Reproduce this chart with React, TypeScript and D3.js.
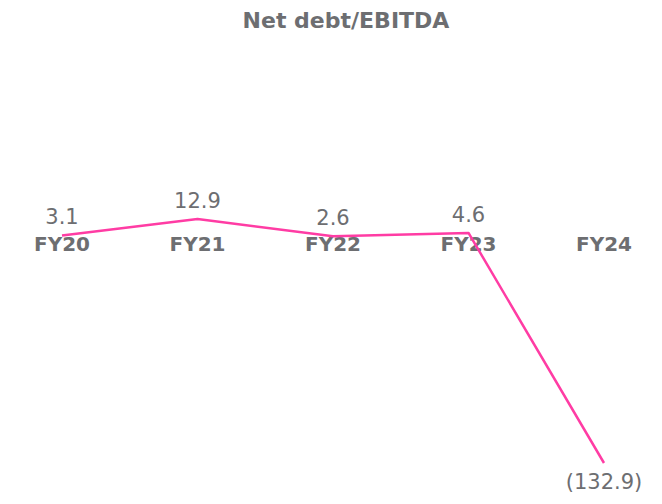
import * as d3 from "d3";

const categories = ["FY20", "FY21", "FY22", "FY23", "FY24"];
const values = [3.1, 12.9, 2.6, 4.6, -132.9];
const labels = ["3.1", "12.9", "2.6", "4.6", "(132.9)"];

const width = 662;
const height = 504;
const gray = "#6d6e71";
const pink = "#ff3ca4";
const font = "'DejaVu Sans', sans-serif";

export default function App() {
  const x = d3.scalePoint<string>().domain(categories).range([62, 604]);
  const y = d3.scaleLinear().domain([-132.9, 12.9]).range([463, 219]);
  const pts = categories.map((c, i) => ({ c, v: values[i], l: labels[i] }));
  const line = d3
    .line<{ c: string; v: number }>()
    .x(d => x(d.c) ?? 0)
    .y(d => y(d.v));
  const y0 = y(0);

  return (
    <svg
      width={width}
      height={height}
      style={{ position: "absolute", left: 0, top: 0, background: "#fff" }}
      fontFamily={font}
    >
      <text x={346} y={28} textAnchor="middle" fontSize={22} fontWeight={700} fill={gray}>
        Net debt/EBITDA
      </text>
      {/* category labels sit on the zero line */}
      {categories.map(c => (
        <text key={c} x={x(c)} y={y0 + 10.5} textAnchor="middle" fontSize={20} fontWeight={700} fill={gray}>
          {c}
        </text>
      ))}
      <path d={line(pts) ?? ""} fill="none" stroke={pink} strokeWidth={2.5} strokeLinejoin="round" />
      {pts.map(p => (
        <text
          key={p.c + "v"}
          x={x(p.c)}
          y={p.v >= 0 ? y(p.v) - 11 : y(p.v) + 26}
          textAnchor="middle"
          fontSize={21}
          fill={gray}
        >
          {p.l}
        </text>
      ))}
    </svg>
  );
}
